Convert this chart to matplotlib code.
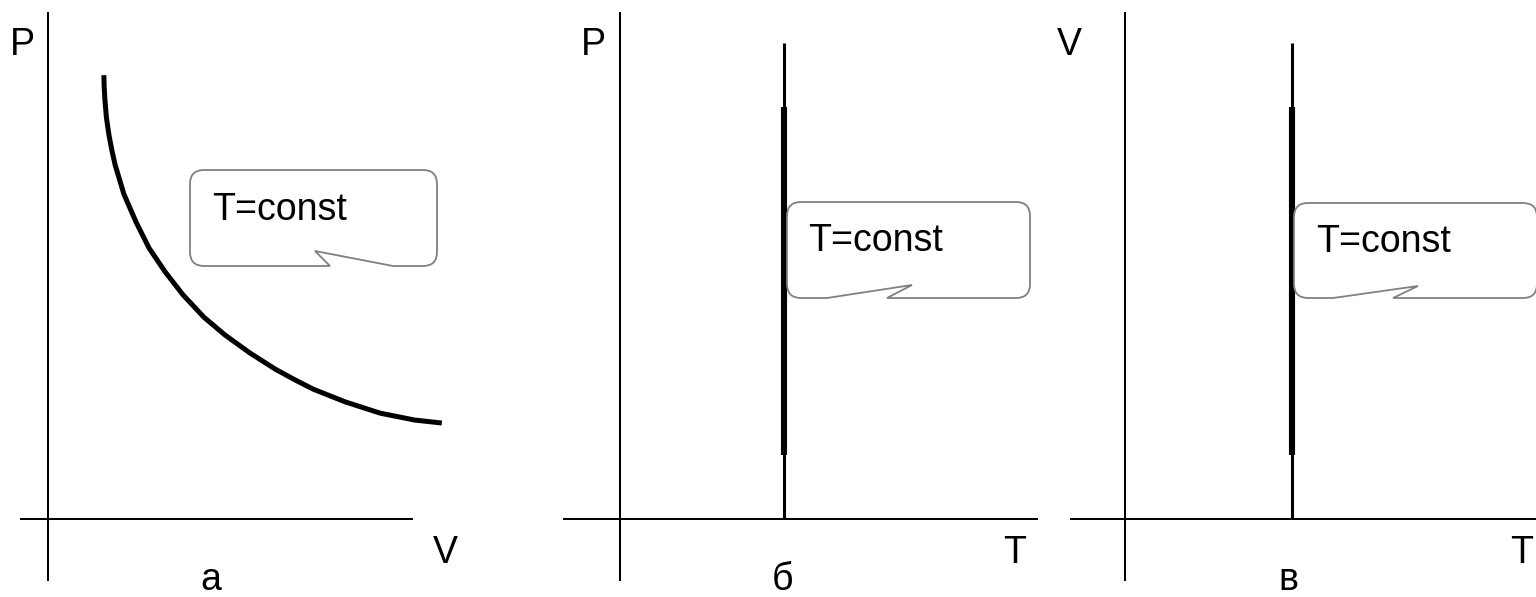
import numpy as np
import matplotlib
matplotlib.use('Agg')
import matplotlib.pyplot as plt
from matplotlib.path import Path
from matplotlib.patches import PathPatch
from matplotlib.transforms import Affine2D

plt.rcParams['font.family'] = ['Liberation Sans', 'DejaVu Sans']

# isotherm in P-V (panel a), arbitrary units
V_iso = [1.53, 1.54, 1.56, 1.60, 1.67, 1.75, 1.84, 2.08, 2.41, 2.77, 3.21, 3.70,
         4.27, 4.85, 5.53, 6.22, 6.75, 7.26, 8.14, 9.10, 10.05, 10.79]
P_iso = [12.16, 11.82, 11.48, 11.00, 10.52, 10.10, 9.70, 8.90, 8.14, 7.42, 6.77,
         6.14, 5.53, 5.04, 4.55, 4.11, 3.82, 3.56, 3.21, 2.90, 2.71, 2.63]

# isotherms in P-T and V-T (panels b, c): T fixed
T_const_b = 4.49
T_const_c = 4.58
line_span = [0.0, 13.04]      # full vertical line
thick_span = [1.75, 11.29]    # bold part

# axis extents
y_axis = [-1.70, 13.89]
x_axis_a = [-0.77, 10.0]
x_axis_b = [-1.56, 11.45]
x_axis_c = [-1.51, 11.30]

W, H = 1536, 597
U = 36.5  # px per unit

fig = plt.figure(figsize=(W / 100, H / 100), dpi=100)
px = Affine2D().scale(1 / W, -1 / H).translate(0, 1) + fig.transFigure


def panel(left, right, ox, oy):
    ax = fig.add_axes([left / W, 0, (right - left) / W, 1])
    ax.set_xlim((left - ox) / U, (right - ox) / U)
    ax.set_ylim((oy - H) / U, oy / U)
    ax.axis('off')
    return ax


def callout(x0, y0, x1, y1, tail, r=14):
    # rounded box with a tail cut into its bottom edge (pixel coords, y down)
    a, tip, b = tail
    verts = [(x0 + r, y0), (x1 - r, y0), (x1, y0), (x1, y0 + r),
             (x1, y1 - r), (x1, y1), (x1 - r, y1),
             (a, y1), tip, (b, y1),
             (x0 + r, y1), (x0, y1), (x0, y1 - r),
             (x0, y0 + r), (x0, y0), (x0 + r, y0), (x0 + r, y0)]
    codes = [Path.MOVETO, Path.LINETO, Path.CURVE3, Path.CURVE3,
             Path.LINETO, Path.CURVE3, Path.CURVE3,
             Path.LINETO, Path.LINETO, Path.LINETO,
             Path.LINETO, Path.CURVE3, Path.CURVE3,
             Path.LINETO, Path.CURVE3, Path.CURVE3, Path.CLOSEPOLY]
    p = PathPatch(Path(verts, codes), transform=px, facecolor='white',
                  edgecolor='#808080', lw=1.3, zorder=5)
    fig.add_artist(p)


def label(x, y, s, ha='center'):
    fig.text(x, y, s, transform=px, fontsize=27, ha=ha, va='baseline', zorder=6)


axis_kw = dict(color='black', lw=1.45, solid_capstyle='butt')

# panel a
ax_a = panel(0, 512, 48, 519)
ax_a.plot([0, 0], y_axis, **axis_kw)
ax_a.plot(x_axis_a, [0, 0], **axis_kw)
ax_a.plot(V_iso, P_iso, color='black', lw=3.6, solid_capstyle='butt',
          solid_joinstyle='round')

# panel b
ax_b = panel(512, 1050, 620, 519)
ax_b.plot([0, 0], y_axis, **axis_kw)
ax_b.plot(x_axis_b, [0, 0], **axis_kw)
ax_b.plot([T_const_b] * 2, line_span, color='black', lw=2.2, solid_capstyle='butt')
ax_b.plot([T_const_b] * 2, thick_span, color='black', lw=4.4, solid_capstyle='butt')

# panel c
ax_c = panel(1050, 1536, 1125, 519)
ax_c.plot([0, 0], y_axis, **axis_kw)
ax_c.plot(x_axis_c, [0, 0], **axis_kw)
ax_c.plot([T_const_c] * 2, line_span, color='black', lw=2.2, solid_capstyle='butt')
ax_c.plot([T_const_c] * 2, thick_span, color='black', lw=4.4, solid_capstyle='butt')

# callouts
callout(190, 170, 437, 266, (393, (315, 251), 330))
label(212, 220, 'T=const', ha='left')
callout(787, 202, 1030, 298, (887, (912, 285), 827))
label(808, 251, 'T=const', ha='left')
callout(1294, 203, 1537, 298, (1393, (1418, 286), 1333))
label(1316, 252, 'T=const', ha='left')

# axis names and panel letters
label(22, 55, 'P')
label(445, 563, 'V')
label(211, 590, 'а')
label(593, 55, 'P')
label(1015, 563, 'T')
label(782, 590, 'б')
label(1069, 55, 'V')
label(1522, 563, 'T')
label(1288, 590, 'в')

fig.savefig('out.png', dpi=100)
